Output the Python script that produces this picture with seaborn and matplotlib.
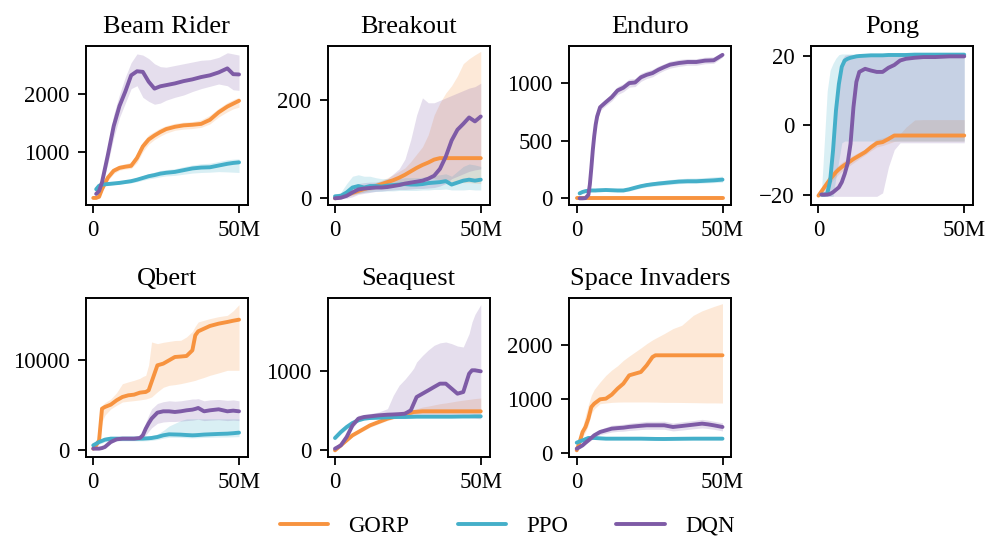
import numpy as np
import pandas as pd
import matplotlib
matplotlib.use("Agg")
import matplotlib.pyplot as plt
import seaborn as sns

# ---- data (x in millions of frames) ----
methods = ["GORP", "PPO", "DQN"]
colors = {"GORP": "#F7933F", "PPO": "#44AFC9", "DQN": "#7E5BA6"}
nan = np.nan

# Beam Rider
br_x = [0, 1, 2, 3, 5, 7, 9, 11, 13, 15, 17, 19, 21, 23, 25, 28, 31, 34, 37, 40, 43, 46, 48, 50]
br_gorp = [210, 210, 230, 360, 560, 680, 730, 750, 765, 900, 1100, 1220, 1290, 1350, 1400, 1440, 1465, 1475, 1490, 1560, 1690, 1790, 1840, 1890]
br_gorp_lo = [200, 200, 210, 320, 510, 630, 690, 710, 720, 820, 1010, 1140, 1220, 1280, 1330, 1380, 1400, 1410, 1430, 1490, 1610, 1700, 1750, 1780]
br_gorp_hi = [220, 220, 250, 400, 610, 730, 780, 800, 830, 980, 1180, 1300, 1360, 1420, 1460, 1500, 1520, 1530, 1560, 1640, 1760, 1860, 1910, 1950]
br_ppo = [nan, 360, 420, 440, 450, 460, 470, 485, 500, 525, 555, 585, 605, 630, 645, 660, 690, 720, 735, 740, 770, 800, 815, 825]
br_ppo_lo = [nan, 350, 400, 420, 430, 440, 450, 460, 470, 490, 515, 540, 555, 575, 590, 600, 620, 640, 650, 655, 665, 660, 655, 650]
br_ppo_hi = [nan, 370, 440, 460, 470, 480, 490, 510, 535, 560, 595, 630, 655, 685, 700, 715, 750, 780, 800, 810, 840, 870, 880, 885]
br_dqn = [nan, 280, 330, 480, 950, 1450, 1800, 2050, 2330, 2400, 2390, 2220, 2100, 2140, 2160, 2190, 2230, 2260, 2300, 2330, 2380, 2450, 2350, 2345]
br_dqn_lo = [nan, 260, 300, 420, 800, 1250, 1600, 1850, 2100, 2150, 1950, 1880, 1830, 1850, 1900, 1950, 1990, 2050, 2100, 2140, 2180, 2150, 2080, 2070]
br_dqn_hi = [nan, 300, 360, 560, 1100, 1650, 2000, 2300, 2550, 2700, 2680, 2620, 2530, 2480, 2470, 2500, 2530, 2560, 2590, 2600, 2640, 2720, 2700, 2680]

# Breakout
bo_x = [0, 2, 4, 6, 8, 10, 12, 14, 16, 18, 20, 22, 24, 26, 28, 30, 32, 34, 36, 38, 40, 42, 44, 46, 48, 50]
bo_gorp = [0, 3, 7, 11, 15, 19, 22, 25, 29, 33, 37, 42, 48, 55, 62, 68, 73, 79, 82, 82, 82, 82, 82, 82, 82, 82]
bo_gorp_lo = [0, 1, 3, 6, 10, 13, 16, 19, 22, 25, 28, 31, 34, 37, 40, 42, 42, 40, 38, 36, 34, 33, 32, 32, 31, 30]
bo_gorp_hi = [2, 6, 11, 16, 20, 25, 28, 32, 37, 42, 48, 55, 62, 75, 90, 105, 130, 170, 195, 215, 230, 250, 275, 285, 293, 300]
bo_ppo = [4, 5, 12, 22, 25, 22, 25, 25, 24, 26, 27, 28, 29, 28, 28, 29, 31, 32, 33, 35, 28, 32, 36, 38, 36, 38]
bo_ppo_lo = [0, 0, 5, 8, 10, 12, 13, 14, 14, 15, 15, 16, 16, 16, 16, 17, 17, 18, 18, 19, 17, 17, 17, 18, 17, 17]
bo_ppo_hi = [8, 12, 30, 45, 48, 45, 45, 42, 40, 40, 40, 40, 42, 42, 42, 43, 45, 47, 48, 50, 45, 55, 65, 70, 68, 65]
bo_dqn = [0, 1, 5, 12, 18, 20, 21, 22, 22, 23, 25, 27, 30, 32, 34, 36, 40, 46, 60, 85, 118, 140, 152, 165, 157, 167]
bo_dqn_lo = [0, 0, 0, 3, 8, 10, 12, 14, 15, 16, 17, 18, 18, 19, 20, 20, 21, 22, 25, 30, 40, 45, 50, 55, 58, 60]
bo_dqn_hi = [3, 5, 15, 25, 30, 32, 33, 33, 35, 40, 50, 60, 80, 120, 170, 205, 195, 195, 200, 205, 210, 215, 220, 225, 228, 235]

# Enduro
en_x = [0, 1, 2, 3, 4, 4.5, 5, 5.5, 6, 6.5, 7, 8, 10, 12, 14, 16, 18, 20, 22, 24, 26, 28, 30, 32, 35, 38, 41, 44, 47, 50]
en_gorp = [0] * 30
en_gorp_lo = [0] * 30
en_gorp_hi = [0] * 30
en_ppo = [nan, 43, 55, 62, 66, 67, 68, 68, 68, 68, 69, 70, 72, 70, 68, 68, 78, 92, 105, 115, 122, 128, 133, 138, 145, 148, 148, 152, 156, 162]
en_ppo_lo = [nan, 35, 45, 52, 55, 56, 57, 57, 57, 57, 58, 58, 60, 58, 56, 56, 64, 76, 88, 98, 105, 110, 115, 120, 127, 130, 130, 133, 136, 140]
en_ppo_hi = [nan, 52, 65, 72, 77, 78, 79, 79, 79, 80, 81, 82, 85, 84, 82, 84, 95, 110, 124, 135, 143, 150, 157, 163, 170, 175, 176, 180, 186, 192]
en_dqn = [nan, 0, 0, 2, 30, 120, 260, 415, 540, 640, 710, 790, 835, 878, 936, 960, 1000, 1005, 1050, 1072, 1087, 1116, 1139, 1160, 1174, 1183, 1183, 1195, 1198, 1245]
en_dqn_lo = [nan, 0, 0, 0, 15, 90, 220, 370, 500, 600, 670, 760, 805, 845, 900, 925, 965, 970, 1015, 1040, 1055, 1085, 1110, 1130, 1145, 1155, 1155, 1168, 1172, 1225]
en_dqn_hi = [nan, 0, 2, 8, 50, 150, 300, 460, 580, 680, 750, 820, 865, 910, 970, 995, 1035, 1040, 1085, 1105, 1120, 1148, 1168, 1190, 1205, 1212, 1212, 1225, 1228, 1265]

# Pong
pg_x = [0, 1, 2, 3, 4, 5, 6, 7, 8, 9, 10, 11, 12, 13, 14, 16, 18, 20, 22, 24, 26, 28, 30, 33, 36, 40, 45, 50]
pg_gorp = [-20.3, -19.1, -17.9, -16.7, -15.5, -14.5, -13.5, -12.7, -12, -11.4, -10.9, -10.3, -9.7, -9.2, -8.7, -7.7, -6.3, -5.1, -4.8, -3.9, -2.9, -2.9, -2.9, -2.9, -2.9, -2.9, -2.9, -2.9]
pg_gorp_lo = [-20.6, -19.8, -18.8, -17.8, -16.8, -15.8, -14.9, -14.0, -13.3, -12.6, -12.0, -11.4, -10.8, -10.2, -9.6, -8.5, -7.3, -6.2, -5.8, -5.2, -4.6, -4.5, -4.5, -4.5, -4.5, -4.5, -4.5, -4.5]
pg_gorp_hi = [-20.0, -18.4, -17.0, -15.6, -14.3, -13.2, -12.2, -11.4, -10.7, -10.1, -9.6, -9.1, -8.6, -8.1, -7.7, -6.8, -5.3, -4.0, -3.6, -3.0, -2.6, -2.4, -0.5, 1.6, 1.7, 1.7, 1.7, 1.7]
pg_ppo = [nan, -20, -20, -19.8, -16, -7.2, 4.3, 12, 17, 18.8, 19.3, 19.6, 19.8, 20, 20.1, 20.2, 20.3, 20.3, 20.3, 20.4, 20.4, 20.4, 20.4, 20.5, 20.5, 20.5, 20.5, 20.5]
pg_ppo_lo = [nan, -20.5, -20.5, -20.5, -20.5, -20.5, -15, -10, -5, -4.5, -4.5, -4.5, -4.5, -4.5, -4.5, -4.5, -4.5, -4.5, -4.5, -4.5, -4.5, -4.5, -4.5, -4.5, -4.5, -4.5, -4.5, -4.5]
pg_ppo_hi = [nan, -19.5, -5, 10, 16, 18, 19.5, 20.5, 20.7, 20.7, 20.7, 20.7, 20.7, 20.7, 20.7, 20.7, 20.7, 20.7, 20.7, 20.7, 20.7, 20.7, 20.7, 20.7, 20.7, 20.7, 20.7, 20.7]
pg_dqn = [nan, -20, -20, -20, -19.8, -19.3, -18.6, -17.9, -16.4, -14, -11, -5.3, 5.3, 12.6, 15.5, 16.4, 15.9, 15.5, 15.5, 16.7, 17.5, 18.8, 19.3, 19.6, 19.8, 19.8, 20, 20]
pg_dqn_lo = [nan, -20.5, -20.5, -20.5, -20.5, -20.5, -20.5, -20.5, -20.5, -20.5, -20.5, -20.5, -20.5, -20.5, -20.5, -20.5, -20.5, -20.5, -19.5, -12, -7, -5, -5, -5, -5, -5, -5, -5]
pg_dqn_hi = [nan, -19.5, -19, -17, -12, -2, 8, 15, 19, 20.3, 20.5, 20.5, 20.5, 20.5, 20.5, 20.5, 20.5, 20.5, 20.5, 20.5, 20.5, 20.5, 20.5, 20.5, 20.5, 20.5, 20.5, 20.5]

# Qbert
qb_x = [0, 1, 2, 3, 4, 6, 8, 10, 12, 14, 16, 17, 18, 19, 20, 22, 24, 26, 28, 30, 32, 34, 35, 36, 38, 40, 43, 46, 48, 50]
qb_gorp = [185, 556, 1111, 4630, 4815, 5074, 5556, 5926, 6111, 6185, 6408, 6450, 6482, 6667, 7593, 9444, 9630, 10000, 10370, 10420, 10480, 11111, 12778, 13222, 13519, 13815, 14074, 14260, 14400, 14519]
qb_gorp_lo = [100, 400, 800, 3148, 3900, 4600, 5000, 5370, 5450, 5520, 5600, 5650, 5700, 5800, 5926, 6500, 7000, 7222, 7300, 7407, 7550, 7700, 7778, 7900, 8100, 8333, 8600, 8889, 8889, 8889]
qb_gorp_hi = [300, 700, 1400, 5000, 5300, 5700, 6400, 7400, 7600, 7778, 8000, 8200, 8333, 9500, 12037, 11852, 12000, 12100, 12200, 12222, 12600, 13200, 13800, 14260, 14450, 14630, 14850, 15000, 15500, 16185]
qb_ppo = [556, 740, 926, 1050, 1185, 1296, 1296, 1296, 1296, 1296, 1296, 1300, 1320, 1340, 1370, 1481, 1667, 1778, 1760, 1741, 1700, 1667, 1680, 1700, 1750, 1778, 1820, 1852, 1900, 1963]
qb_ppo_lo = [400, 550, 700, 800, 950, 1050, 1050, 1050, 1050, 1050, 1050, 1050, 1060, 1080, 1100, 1200, 1350, 1450, 1450, 1430, 1400, 1380, 1390, 1400, 1430, 1450, 1470, 1480, 1500, 1520]
qb_ppo_hi = [700, 950, 1150, 1300, 1450, 1550, 1550, 1550, 1550, 1550, 1550, 1560, 1580, 1600, 1650, 1800, 2200, 2700, 3000, 3300, 3500, 3500, 3500, 3500, 3500, 3500, 3500, 3500, 3500, 3500]
qb_dqn = [185, 185, 185, 250, 370, 926, 1222, 1296, 1296, 1296, 1370, 1667, 2407, 3000, 3519, 4185, 4333, 4333, 4259, 4333, 4444, 4519, 4600, 4704, 4333, 4444, 4556, 4333, 4407, 4333]
qb_dqn_lo = [100, 100, 100, 150, 250, 750, 1050, 1150, 1150, 1150, 1200, 1300, 1700, 2100, 2500, 3000, 3148, 3200, 3200, 3250, 3300, 3350, 3400, 3450, 3300, 3350, 3400, 3300, 3350, 3300]
qb_dqn_hi = [270, 270, 270, 350, 500, 1100, 1400, 1450, 1450, 1450, 1550, 2100, 3100, 3900, 4600, 5200, 5400, 5500, 5450, 5500, 5600, 5700, 5700, 5740, 5500, 5600, 5650, 5550, 5600, 5500]

# Seaquest
sq_x = [0, 2, 4, 6, 8, 10, 12, 15, 18, 20, 22, 24, 26, 27, 28, 30, 32, 34, 36, 38, 40, 42, 44, 46, 47, 48, 50]
sq_gorp = [0, 63, 127, 190, 232, 274, 316, 359, 401, 420, 435, 464, 475, 485, 488, 494, 494, 494, 494, 494, 494, 494, 494, 494, 494, 494, 494]
sq_gorp_lo = [0, 50, 110, 170, 210, 252, 292, 335, 378, 398, 412, 440, 452, 460, 463, 468, 468, 468, 468, 468, 468, 468, 468, 468, 468, 468, 468]
sq_gorp_hi = [10, 78, 145, 210, 255, 297, 340, 383, 425, 445, 462, 490, 505, 518, 525, 548, 560, 575, 590, 600, 612, 625, 635, 645, 650, 655, 662]
sq_ppo = [156, 232, 295, 346, 380, 401, 409, 413, 418, 422, 422, 422, 424, 425, 426, 426, 426, 426, 426, 426, 426, 427, 428, 428, 429, 430, 430]
sq_ppo_lo = [130, 205, 268, 322, 360, 385, 395, 400, 405, 410, 410, 410, 412, 413, 414, 414, 414, 414, 414, 414, 414, 415, 416, 416, 417, 418, 418]
sq_ppo_hi = [180, 262, 325, 372, 402, 418, 424, 427, 431, 434, 434, 434, 436, 437, 438, 438, 438, 438, 438, 438, 438, 439, 440, 440, 441, 442, 442]
sq_dqn = [21, 63, 169, 316, 401, 422, 430, 443, 451, 454, 458, 464, 506, 591, 675, 717, 759, 802, 844, 844, 781, 717, 738, 970, 1013, 1013, 1000]
sq_dqn_lo = [10, 45, 140, 280, 370, 395, 405, 415, 425, 428, 430, 435, 445, 450, 450, 450, 448, 445, 443, 440, 430, 425, 420, 415, 410, 405, 400]
sq_dqn_hi = [35, 85, 200, 350, 443, 455, 465, 485, 527, 696, 823, 900, 990, 1040, 1118, 1200, 1270, 1329, 1360, 1371, 1350, 1320, 1308, 1477, 1624, 1720, 1844]

# Space Invaders
si_x = [0, 1, 2, 3, 4, 5, 6, 8, 10, 12, 14, 16, 18, 20, 22, 24, 26, 27, 30, 33, 36, 40, 43, 45, 47, 50]
si_gorp = [50, 204, 390, 483, 638, 854, 916, 997, 1009, 1083, 1195, 1288, 1442, 1473, 1504, 1628, 1783, 1814, 1814, 1814, 1814, 1814, 1814, 1814, 1814, 1814]
si_gorp_lo = [40, 150, 300, 390, 520, 730, 820, 916, 928, 940, 945, 947, 947, 947, 947, 947, 945, 945, 940, 940, 938, 935, 932, 930, 930, 928]
si_gorp_hi = [60, 260, 480, 700, 900, 1070, 1180, 1318, 1442, 1540, 1620, 1720, 1800, 1875, 1950, 2030, 2100, 2130, 2216, 2310, 2371, 2557, 2640, 2680, 2720, 2773]
si_ppo = [192, 214, 235, 257, 279, 279, 279, 272, 266, 266, 266, 266, 266, 266, 266, 264, 262, 261, 260, 262, 264, 266, 266, 266, 266, 266]
si_ppo_lo = [175, 197, 218, 240, 262, 262, 262, 256, 250, 250, 250, 250, 250, 250, 250, 248, 246, 245, 244, 246, 248, 250, 250, 250, 250, 250]
si_ppo_hi = [210, 232, 252, 274, 296, 296, 296, 288, 282, 282, 282, 282, 282, 282, 282, 280, 278, 277, 276, 278, 280, 282, 282, 282, 282, 282]
si_dqn = [80, 110, 142, 190, 235, 280, 328, 390, 421, 452, 462, 470, 485, 495, 505, 514, 514, 514, 514, 483, 501, 526, 545, 532, 514, 483]
si_dqn_lo = [60, 85, 115, 160, 200, 240, 285, 340, 365, 390, 400, 405, 418, 425, 435, 440, 440, 440, 440, 410, 425, 450, 465, 455, 440, 410]
si_dqn_hi = [100, 135, 170, 220, 270, 320, 370, 440, 478, 515, 525, 535, 552, 565, 575, 588, 588, 588, 590, 556, 578, 602, 625, 610, 590, 560]

games = [
    ("Beam Rider", br_x, [(br_gorp, br_gorp_lo, br_gorp_hi), (br_ppo, br_ppo_lo, br_ppo_hi), (br_dqn, br_dqn_lo, br_dqn_hi)], [1000, 2000], (88, 2837)),
    ("Breakout", bo_x, [(bo_gorp, bo_gorp_lo, bo_gorp_hi), (bo_ppo, bo_ppo_lo, bo_ppo_hi), (bo_dqn, bo_dqn_lo, bo_dqn_hi)], [0, 200], (-13.7, 311)),
    ("Enduro", en_x, [(en_gorp, en_gorp_lo, en_gorp_hi), (en_ppo, en_ppo_lo, en_ppo_hi), (en_dqn, en_dqn_lo, en_dqn_hi)], [0, 500, 1000], (-58, 1322)),
    ("Pong", pg_x, [(pg_gorp, pg_gorp_lo, pg_gorp_hi), (pg_ppo, pg_ppo_lo, pg_ppo_hi), (pg_dqn, pg_dqn_lo, pg_dqn_hi)], [-20, 0, 20], (-23, 23)),
    ("Qbert", qb_x, [(qb_gorp, qb_gorp_lo, qb_gorp_hi), (qb_ppo, qb_ppo_lo, qb_ppo_hi), (qb_dqn, qb_dqn_lo, qb_dqn_hi)], [0, 10000], (-741, 16926)),
    ("Seaquest", sq_x, [(sq_gorp, sq_gorp_lo, sq_gorp_hi), (sq_ppo, sq_ppo_lo, sq_ppo_hi), (sq_dqn, sq_dqn_lo, sq_dqn_hi)], [0, 1000], (-84, 1928)),
    ("Space Invaders", si_x, [(si_gorp, si_gorp_lo, si_gorp_hi), (si_ppo, si_ppo_lo, si_ppo_hi), (si_dqn, si_dqn_lo, si_dqn_hi)], [0, 1000, 2000], (-74, 2878)),
]

sns.set_theme(style="ticks")
plt.rcParams["font.family"] = ["Liberation Serif", "DejaVu Serif"]
plt.rcParams["text.color"] = "black"
plt.rcParams["axes.labelcolor"] = "black"
plt.rcParams["axes.linewidth"] = 1.4
plt.rcParams["xtick.major.width"] = 1.3
plt.rcParams["ytick.major.width"] = 1.3
plt.rcParams["xtick.major.size"] = 6
plt.rcParams["ytick.major.size"] = 6
plt.rcParams["xtick.major.pad"] = 5
plt.rcParams["ytick.major.pad"] = 6
plt.rcParams["xtick.color"] = "black"
plt.rcParams["ytick.color"] = "black"
plt.rcParams["xtick.labelcolor"] = "black"
plt.rcParams["ytick.labelcolor"] = "black"
plt.rcParams["axes.edgecolor"] = "black"

fig, axes = plt.subplots(2, 4, figsize=(9.87, 5.38), dpi=100)
fig.subplots_adjust(left=0.0871, right=0.9858, top=0.9145, bottom=0.1506,
                    wspace=0.494, hspace=0.585)
axes = axes.flatten()

for i, (title, xs, series, yticks, ylim) in enumerate(games):
    ax = axes[i]
    rows = []
    for m, (mean, lo, hi) in zip(methods, series):
        ax.fill_between(xs, lo, hi, color=colors[m], alpha=0.2, linewidth=0)
        for x, y in zip(xs, mean):
            rows.append({"step": x, "score": y, "method": m})
    df = pd.DataFrame(rows)
    sns.lineplot(data=df, x="step", y="score", hue="method", hue_order=methods,
                 palette=colors, linewidth=2.8, ax=ax, legend=(i == 0))
    ax.set_title(title, fontsize=19, pad=9, color="black")
    ax.set_xlabel("")
    ax.set_ylabel("")
    ax.set_xlim(-2.5, 53)
    ax.set_ylim(*ylim)
    ax.set_xticks([0, 50])
    ax.set_xticklabels(["0", "50M"])
    ax.set_yticks(yticks)
    ax.tick_params(labelsize=16.5, colors="black")

handles, labels = axes[0].get_legend_handles_labels()
axes[0].get_legend().remove()
for h in handles:
    h.set_linewidth(2.8)
axes[7].axis("off")
fig.legend(handles, labels, loc="lower center", ncol=3, frameon=False,
           fontsize=16.5, bbox_to_anchor=(0.514, -0.036), handlelength=2.1,
           handletextpad=0.9, columnspacing=2.1)

fig.savefig("out.png", dpi=100)
